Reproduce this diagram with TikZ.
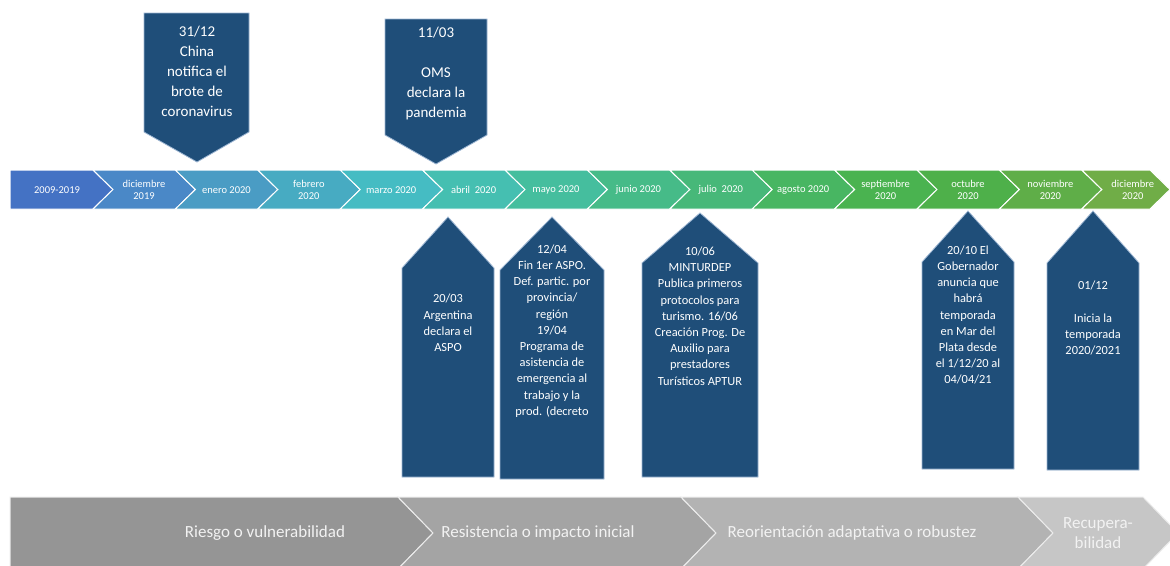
\documentclass[tikz,border=0pt]{standalone}
\usepackage{fontspec}
\setmainfont{Carlito}
\definecolor{c0}{HTML}{4472C4}
\definecolor{c1}{HTML}{4A88C7}
\definecolor{c2}{HTML}{4A9CC4}
\definecolor{c3}{HTML}{47ABC2}
\definecolor{c4}{HTML}{45BCC3}
\definecolor{c5}{HTML}{45BFB1}
\definecolor{c6}{HTML}{45BE9E}
\definecolor{c7}{HTML}{46BB88}
\definecolor{c8}{HTML}{47B879}
\definecolor{c9}{HTML}{48B662}
\definecolor{c10}{HTML}{4AB350}
\definecolor{c11}{HTML}{4EB04A}
\definecolor{c12}{HTML}{5FAE48}
\definecolor{c13}{HTML}{70AD47}
\definecolor{navy}{HTML}{1F4E79}
\definecolor{navyedge}{HTML}{9DB6D3}
\definecolor{g1}{HTML}{959595}
\definecolor{g2}{HTML}{A4A4A4}
\definecolor{g3}{HTML}{B3B3B3}
\definecolor{g4}{HTML}{C6C6C6}
\begin{document}
\begin{tikzpicture}[x=1pt,y=-1pt,
  barseg/.style={draw=white,line width=1pt},
  bartext/.style={text=white,align=center,inner sep=0pt,font=\fontsize{10.5}{11.5}\selectfont},
  callout/.style={fill=navy,draw=navyedge,line width=0.8pt},
  toptext/.style={text=white,align=center,inner sep=0pt,font=\fontsize{15}{20}\selectfont},
  calltext/.style={text=white,align=center,inner sep=0pt,font=\fontsize{12.4}{16.2}\selectfont},
  phaseseg/.style={draw=white!85!gray,line width=1pt},
  phasetext/.style={text=white!95!black,align=center,inner sep=0pt,font=\fontsize{17}{19.5}\selectfont}]
\useasboundingbox (0,0) rectangle (1170,565);
\clip (0,0) rectangle (1170,565);
\fill[white] (0,0) rectangle (1170,565);

% timeline chevrons
\foreach \i/\lab in {0/{2009-2019},1/{diciembre\\2019},2/{enero 2020},3/{febrero\\2020},4/{marzo 2020},5/{abril\ \ 2020},6/{mayo 2020},7/{junio 2020},8/{julio\ \ 2020},9/{agosto 2020},10/{septiembre\\2020},11/{octubre\\2020},12/{noviembre\\2020},13/{diciembre\\2020}}{
  \pgfmathsetmacro\L{\i==0 ? 10 : 93+(\i-1)*82.4}
  \pgfmathsetmacro\N{\i==0 ? 10 : 93+(\i-1)*82.4+20}
  \pgfmathsetmacro\R{\i==13 ? 1150 : 93+\i*82.4}
  \pgfmathsetmacro\C{\i==0 ? 57 : \L+51}
  \draw[barseg,fill=c\i] (\L,170) -- (\R,170) -- (\R+20,189.5) -- (\R,209) -- (\L,209) -- (\N,189.5) -- cycle;
  \node[bartext] (m\i) at (\C,190) {\lab};
}

% phases bar
\draw[phaseseg,fill=g1] (10,497) -- (398,497) -- (433,533) -- (398,569) -- (10,569) -- cycle;
\draw[phaseseg,fill=g2] (398,497) -- (681,497) -- (716,533) -- (681,569) -- (398,569) -- (433,533) -- cycle;
\draw[phaseseg,fill=g3] (681,497) -- (1018,497) -- (1053,533) -- (1018,569) -- (681,569) -- (716,533) -- cycle;
\draw[phaseseg,fill=g4] (1018,497) -- (1143,497) -- (1178,533) -- (1143,569) -- (1018,569) -- (1053,533) -- cycle;
\node[phasetext] (p1) at (265,533) {Riesgo o vulnerabilidad};
\node[phasetext] (p2) at (538,533) {Resistencia o impacto inicial};
\node[phasetext] (p3) at (852,533) {Reorientación adaptativa o robustez};
\node[phasetext] (p4) at (1098,533) {Recupera-\\bilidad};

% top callouts
\draw[callout] (144,13) -- (249,13) -- (249,132) -- (197,162) -- (144,132) -- cycle;
\node[toptext] (k1) at (197,71) {31/12\\China\\notifica el\\brote de\\coronavirus};
\draw[callout] (385,19) -- (487,19) -- (487,135) -- (436,164) -- (385,135) -- cycle;
\node[toptext] (k2) at (436,73) {11/03\\[20pt]OMS\\declara la\\pandemia};

% bottom callouts
\draw[callout] (448,217) -- (494,268) -- (494,477) -- (402,477) -- (402,268) -- cycle;
\node[calltext] (e1) at (448,323) {20/03\\Argentina\\declara el\\ASPO};
\draw[callout] (552,217) -- (604,270) -- (604,479) -- (500,479) -- (500,270) -- cycle;
\node[calltext] (e2) at (552,331) {12/04\\Fin 1er ASPO.\\Def. partic. por\\provincia/\\región\\19/04\\Programa de\\asistencia de\\emergencia al\\trabajo y la\\prod. (decreto};
\draw[callout] (700,213) -- (758,263) -- (758,477) -- (642,477) -- (642,263) -- cycle;
\node[calltext] (e3) at (700,316) {10/06\\MINTURDEP\\Publica primeros\\protocolos para\\turismo. 16/06\\Creación Prog. De\\Auxilio para\\prestadores\\Turísticos APTUR};
\draw[callout] (968,211) -- (1014,262) -- (1014,469) -- (922,469) -- (922,262) -- cycle;
\node[calltext] (e4) at (968,315) {20/10 El\\Gobernador\\anuncia que\\habrá\\temporada\\en Mar del\\Plata desde\\el 1/12/20 al\\04/04/21};
\draw[callout] (1093,211) -- (1139,263) -- (1139,470) -- (1047,470) -- (1047,263) -- cycle;
\node[calltext] (e5) at (1093,318) {01/12\\[16.2pt]Inicia la\\temporada\\2020/2021};
\end{tikzpicture}
\end{document}
